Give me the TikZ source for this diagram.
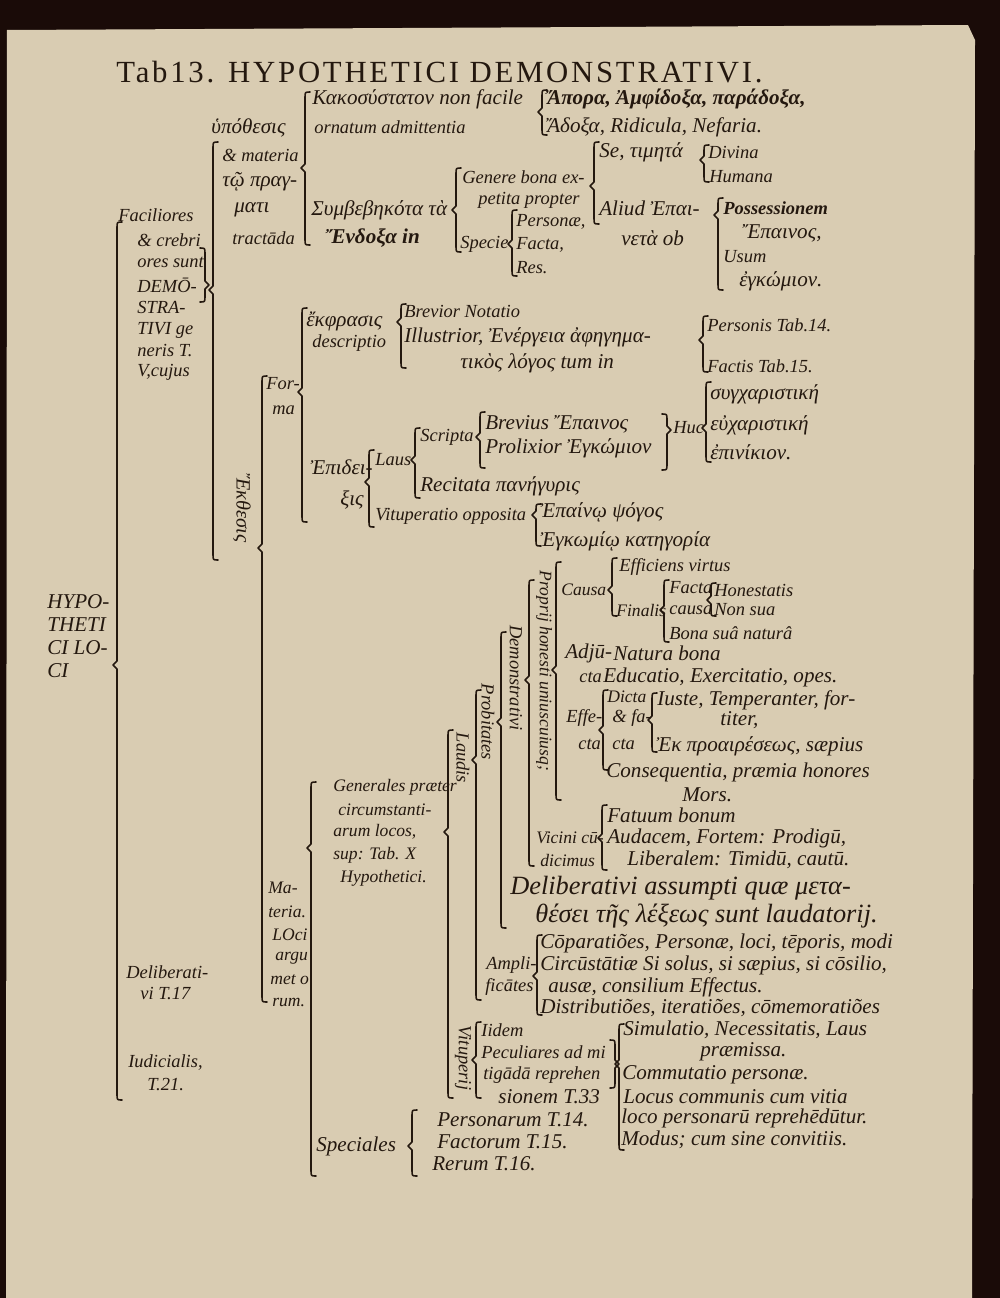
\documentclass[tikz,border=0pt]{standalone}
\usepackage{fontspec}
\setmainfont{Liberation Serif}
\definecolor{ink}{HTML}{24180F}
\definecolor{paper}{HTML}{D9CCB2}
\definecolor{board}{HTML}{1A0B08}
\def\brak(#1,#2,#3,#4){\draw[brak] (#1+5,#2) .. controls (#1,#2) .. (#1,#2+6) -- (#1,#4-4) -- (#1-4,#4) -- (#1,#4+4) -- (#1,#3-6) .. controls (#1,#3) .. (#1+5,#3);}
\def\rbrak(#1,#2,#3,#4){\draw[brak] (#1-5,#2) .. controls (#1,#2) .. (#1,#2+6) -- (#1,#4-4) -- (#1+4,#4) -- (#1,#4+4) -- (#1,#3-6) .. controls (#1,#3) .. (#1-5,#3);}

\begin{document}
\begin{tikzpicture}[x=0.02cm,y=-0.02cm,
    txt/.style={anchor=west,inner sep=0pt,text=ink,font=\itshape\fontsize{12}{13}\selectfont},
    small/.style={txt,font=\itshape\fontsize{10.5}{12}\selectfont},
    tiny/.style={txt,font=\itshape\fontsize{10}{11}\selectfont},
    big/.style={txt,font=\itshape\fontsize{15}{17}\selectfont},
    vlab/.style={inner sep=0pt,text=ink,rotate=-90,font=\itshape\fontsize{10.5}{12}\selectfont},
    brak/.style={draw=ink,line width=0.9pt,line cap=round,line join=round}]
				\useasboundingbox (0,0) rectangle (1000,1298);
				\fill[board] (0,0) rectangle (1000,1298);
				\fill[paper] (7,30) -- (600,27) -- (968,25) -- (975,40) -- (972,1298) -- (6,1298) -- cycle;
				
				\node[txt,anchor=west,font=\fontsize{17.5}{19}\selectfont\addfontfeatures{LetterSpace=9}] (tab) at (116,72) {Tab13. HYPOTHETICI DEMONSTRATIVI.};
				
				% hypothesis
				\node[txt] (kako) at (312,99) {Κακοσύστατον non facile};
				\node[txt,font=\bfseries\itshape\fontsize{12}{13}\selectfont] (apora) at (547,99) {Ἄπορα, Ἀμφίδοξα, παράδοξα,};
				\node[small] (ornat) at (314,127) {ornatum admittentia};
				\node[txt] (adoxa) at (547,127) {Ἄδοξα, Ridicula, Nefaria.};
				\node[txt] (hypo) at (211,128) {ὑπόθεσις};
				\node[small] (mater) at (222,155) {\& materia};
				\node[txt] (prag) at (222,182) {τῷ πραγ-};
				\node[txt] (mati) at (234,210) {ματι};
				\node[small] (tract) at (232,238) {tractāda};
				\node[txt] (symb) at (311,210) {Συμβεβηκότα τὰ};
				\node[txt,font=\bfseries\itshape\fontsize{12}{13}\selectfont] (endoxa) at (325,238) {Ἔνδοξα in};
				\node[small] (gener) at (462,177) {Genere bona ex-};
				\node[small] (petit) at (478,200) {petita propter};
				\node[small] (speci) at (460,244) {Specie};
				\node[small] (pers) at (516,222) {Personæ,};
				\node[small] (fact) at (516,245) {Facta,};
				\node[small] (res) at (516,268) {Res.};
				\node[txt] (timet) at (599,152) {Se, τιμητά};
				\node[txt] (aliud) at (599,208) {Aliud Ἐπαι-};
				\node[txt] (neta) at (621,238) {νετὰ ob};
				\node[small] (divin) at (708,152) {Divina};
				\node[small] (human) at (709,177) {Humana};
				\node[small,font=\bfseries\itshape\fontsize{10.5}{12}\selectfont] (posse) at (723,208) {Possessionem};
				\node[txt] (epain) at (742,233) {Ἔπαινος,};
				\node[small] (usum) at (723,257) {Usum};
				\node[txt] (enkom) at (739,281) {ἐγκώμιον.};
				
				% faciliores
				\node[small] (facil) at (118,215) {Faciliores};
				\node[small] (crebr) at (137,240) {\& crebri};
				\node[small] (ores) at (137,262) {ores sunt};
				\node[small] (demo) at (137,285) {DEMŌ-};
				\node[small] (stra) at (137,307) {STRA-};
				\node[small] (tivi) at (137,330) {TIVI ge};
				\node[small] (neris) at (137,351) {neris T.};
				\node[small] (cujus) at (137,372) {V,cujus};
				
				% forma
				\node[txt] (ekphr) at (306,321) {ἔκφρασις};
				\node[small] (descr) at (312,343) {descriptio};
				\node[small] (brevn) at (404,311) {Brevior Notatio};
				\node[txt] (illus) at (404,337) {Illustrior, Ἐνέργεια ἀφηγημα-};
				\node[txt] (tikos) at (460,363) {τικὸς λόγος tum in};
				\node[small] (perst) at (707,325) {Personis Tab.14.};
				\node[small] (factt) at (707,366) {Factis Tab.15.};
				\node[small] (for) at (266,384) {For-};
				\node[small] (ma) at (272,410) {ma};
				\node[txt] (synch) at (710,394) {συγχαριστική};
				\node[txt] (euch) at (710,425) {εὐχαριστική};
				\node[txt] (epin) at (710,452) {ἐπινίκιον.};
				\node[txt] (brevi) at (485,424) {Brevius Ἔπαινος};
				\node[txt] (proli) at (485,448) {Prolixior Ἐγκώμιον};
				\node[small] (huc) at (673,428) {Huc};
				\node[small] (scrip) at (420,437) {Scripta};
				\node[txt] (epid) at (310,467) {Ἐπιδει-};
				\node[small] (laus) at (375,460) {Laus};
				\node[txt] (recit) at (420,486) {Recitata πανήγυρις};
				\node[txt] (xis) at (340,500) {ξις};
				\node[small] (vitup) at (375,516) {Vituperatio opposita};
				\node[txt] (psog) at (540,512) {Ἐπαίνῳ ψόγος};
				\node[txt] (kateg) at (540,541) {Ἐγκωμίῳ κατηγορία};
				\node[vlab,font=\itshape\fontsize{11.5}{12}\selectfont] (ekth) at (242,508) {Ἔκθεσις};
				
				\node[txt,align=left,font=\itshape\fontsize{12}{13}\selectfont] (loci) at (47,636) {HYPO-\\THETI\\CI LO-\\CI};
				
				% demonstrativi
				\node[small] (effic) at (619,567) {Efficiens virtus};
				\node[tiny] (causa) at (561,590) {Causa};
				\node[small] (facta) at (669,588) {Facta};
				\node[small] (hones) at (714,590) {Honestatis};
				\node[tiny] (final) at (616,610) {Finalis};
				\node[small] (cansa) at (669,610) {causa};
				\node[small] (nonsu) at (714,610) {Non sua};
				\node[small] (bona) at (669,633) {Bona suâ naturâ};
				\node[txt] (adju) at (565,653) {Adjū-};
				\node[txt] (natur) at (613,653) {Natura bona};
				\node[small] (cta) at (579,677) {cta};
				\node[txt] (educ) at (603,677) {Educatio, Exercitatio, opes.};
				\node[tiny] (dicta) at (607,697) {Dicta};
				\node[txt] (iuste) at (657,700) {Iuste, Temperanter, for-};
				\node[small] (effe) at (566,718) {Effe-};
				\node[small] (etfa) at (612,718) {\& fa-};
				\node[txt] (titer) at (720,720) {titer,};
				\node[small] (cta2) at (578,744) {cta};
				\node[small] (cta3) at (612,744) {cta};
				\node[txt] (proai) at (656,746) {Ἐκ προαιρέσεως, sæpius};
				\node[txt] (conse) at (606,772) {Consequentia, præmia honores};
				\node[txt] (mors) at (682,795) {Mors.};
				\node[txt] (fatuu) at (607,815) {Fatuum bonum};
				\node[tiny] (vicin) at (536,838) {Vicini cū-};
				\node[txt] (audac) at (607,838) {Audacem, Fortem: Prodigū,};
				\node[tiny] (dicim) at (540,860) {dicimus};
				\node[txt] (liber) at (627,860) {Liberalem: Timidū, cautū.};
				\node[big] (delib) at (510,888) {Deliberativi assumpti quæ μετα-};
				\node[big] (theses) at (535,916) {θέσει τῆς λέξεως sunt laudatorij.};
				\node[txt] (compa) at (540,943) {Cōparatiões, Personæ, loci, tēporis, modi};
				\node[small] (ampli) at (486,965) {Ampli-};
				\node[txt] (circu) at (540,965) {Circūstātiæ Si solus, si sæpius, si cōsilio,};
				\node[small] (ficat) at (485,987) {ficātes};
				\node[txt] (ausae) at (548,987) {ausæ, consilium Effectus.};
				\node[txt] (distr) at (540,1008) {Distributiões, iteratiões, cōmemoratiões};
				\node[small] (iidem) at (481,1030) {Iidem};
				\node[txt] (simul) at (623,1030) {Simulatio, Necessitatis, Laus};
				\node[small] (pecul) at (481,1052) {Peculiares ad mi};
				\node[txt] (praem) at (700,1052) {præmissa.};
				\node[small] (tigad) at (483,1075) {tigādā reprehen};
				\node[txt] (commu) at (622,1075) {Commutatio personæ.};
				\node[txt] (sione) at (498,1097) {sionem T.33};
				\node[txt] (locus) at (623,1097) {Locus communis cum vitia};
				\node[txt] (persT) at (437,1120) {Personarum T.14.};
				\node[txt] (locop) at (621,1118) {loco personarū reprehēdūtur.};
				\node[txt] (factT) at (437,1142) {Factorum T.15.};
				\node[txt] (modus) at (621,1140) {Modus; cum sine convitiis.};
				\node[txt] (rerT) at (432,1164) {Rerum T.16.};
				\node[txt] (spec) at (316,1146) {Speciales};
				
				\node[vlab,font=\itshape\fontsize{10}{11}\selectfont] (propr) at (544,671) {Proprij honesti uniuscuiusq;};
				\node[vlab] (demon) at (516,678) {Demonstrativi};
				\node[vlab] (probi) at (488,722) {Probitates};
				\node[vlab] (laudi) at (463,758) {Laudis};
				\node[vlab] (vitpj) at (463,1058) {Vituperij};
				
				% materia
				\node[tiny] (gen1) at (333,787) {Generales præter};
				\node[tiny] (gen2) at (338,810) {circumstanti-};
				\node[tiny] (gen3) at (333,832) {arum locos,};
				\node[tiny] (gen4) at (333,855) {sup: Tab. X};
				\node[tiny] (gen5) at (340,878) {Hypothetici.};
				\node[tiny] (mat1) at (268,888) {Ma-};
				\node[tiny] (mat2) at (268,912) {teria.};
				\node[tiny] (mat3) at (272,935) {LOci};
				\node[tiny] (mat4) at (275,958) {argu};
				\node[tiny] (mat5) at (270,980) {met o};
				\node[tiny] (mat6) at (272,1002) {rum.};
				\node[small] (delT) at (126,972) {Deliberati-};
				\node[small] (delT2) at (140,994) {vi T.17};
				\node[small] (iudT) at (128,1063) {Iudicialis,};
				\node[small] (iudT2) at (147,1085) {T.21.};
				
				% brackets
				\brak(117,222,1100,665);
				\rbrak(205,248,302,285);
				\brak(213,142,560,290);
				\brak(305,92,245,168);
				\brak(542,90,135,112);
				\brak(456,168,252,210);
				\brak(512,210,276,244);
				\brak(594,142,224,186);
				\brak(704,145,182,160);
				\brak(718,198,290,215);
				\brak(262,376,1002,548);
				\brak(302,308,522,392);
				\brak(401,304,368,322);
				\brak(703,316,372,340);
				\brak(706,382,462,428);
				\rbrak(667,414,470,430);
				\brak(480,412,468,437);
				\brak(415,428,498,460);
				\brak(369,450,527,482);
				\brak(536,504,546,515);
				\brak(311,782,1176,848);
				\brak(448,730,1098,832);
				\brak(476,690,1000,760);
				\brak(501,632,928,722);
				\brak(529,580,866,680);
				\brak(556,562,800,670);
				\brak(612,558,616,590);
				\brak(664,580,642,610);
				\brak(711,583,616,600);
				\brak(603,690,770,730);
				\brak(652,693,752,720);
				\brak(602,805,870,838);
				\brak(537,935,1015,976);
				\brak(476,1022,1098,1060);
				\rbrak(615,1040,1088,1064);
				\brak(619,1024,1150,1064);
				\brak(412,1110,1176,1146);
			\end{tikzpicture}
\end{document}
